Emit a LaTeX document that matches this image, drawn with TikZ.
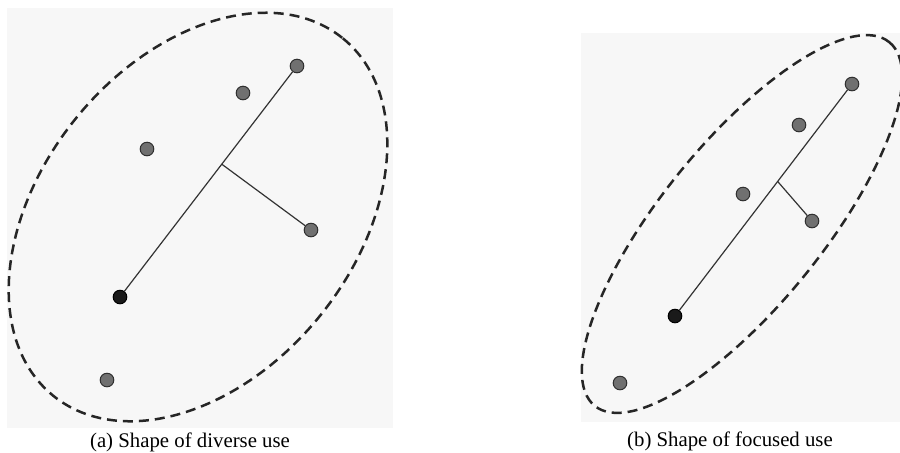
\documentclass[tikz,border=0pt]{standalone}
\usepackage{fontspec}
\setmainfont{Liberation Serif}
\usetikzlibrary{calc}

\definecolor{panelgray}{HTML}{F7F7F7}
\definecolor{dotgray}{HTML}{707070}
\definecolor{dotedge}{HTML}{303030}
\definecolor{dotdark}{HTML}{1A1A1A}
\definecolor{linegray}{HTML}{333333}

\begin{document}
\begin{tikzpicture}[
    % Global options: pixel-like units, y pointing down
    x=0.5pt, y=-0.5pt,
    line width=0.6pt,
    dot/.style={circle, inner sep=0pt, minimum size=6.8pt,
      fill=dotgray, draw=dotedge, line width=0.5pt},
    centre/.style={dot, fill=dotdark, draw=black},
    hull/.style={draw=black!85, line width=1.25pt, dash pattern=on 5pt off 3pt},
    axis/.style={draw=linegray, line width=0.6pt},
    caption/.style={anchor=base, font=\fontsize{10.4}{12}\selectfont},
  ]
    \useasboundingbox (0,0) rectangle (900,452);

    % --- Panel backgrounds ---
    \fill[panelgray] (7,8) rectangle (393,428);
    \fill[panelgray] (581,33) rectangle (900,422);

    % --- (a) diverse use: wide dashed hull ---
    \draw[hull, rotate around={51:(198,217)}]
      (198,217) ellipse [x radius=230, y radius=157];
    \node[dot] (a1) at (297,66) {};
    \node[dot] (a2) at (243,93) {};
    \node[dot] (a3) at (147,149) {};
    \node[dot] (a4) at (311,230) {};
    \node[centre] (a0) at (120,297) {};
    \node[dot] (a5) at (107,380) {};
    \draw[axis] (a0) -- (a1);
    \coordinate (af) at ($(a0)!0.575!(a1)$);
    \draw[axis] (af) -- (a4);
    \node[caption] (capa) at (190,447) {(a) Shape of diverse use};

    % --- (b) focused use: narrow dashed hull ---
    \draw[hull, rotate around={51:(742,224)}]
      (742,224) ellipse [x radius=234, y radius=81];
    \node[dot] (b1) at (852,84) {};
    \node[dot] (b2) at (799,125) {};
    \node[dot] (b3) at (743,194) {};
    \node[dot] (b4) at (812,221) {};
    \node[centre] (b0) at (675,316) {};
    \node[dot] (b5) at (620,383) {};
    \draw[axis] (b0) -- (b1);
    \coordinate (bf) at ($(b0)!0.58!(b1)$);
    \draw[axis] (bf) -- (b4);
    \node[caption] (capb) at (730,446) {(b) Shape of focused use};
  \end{tikzpicture}
\end{document}
